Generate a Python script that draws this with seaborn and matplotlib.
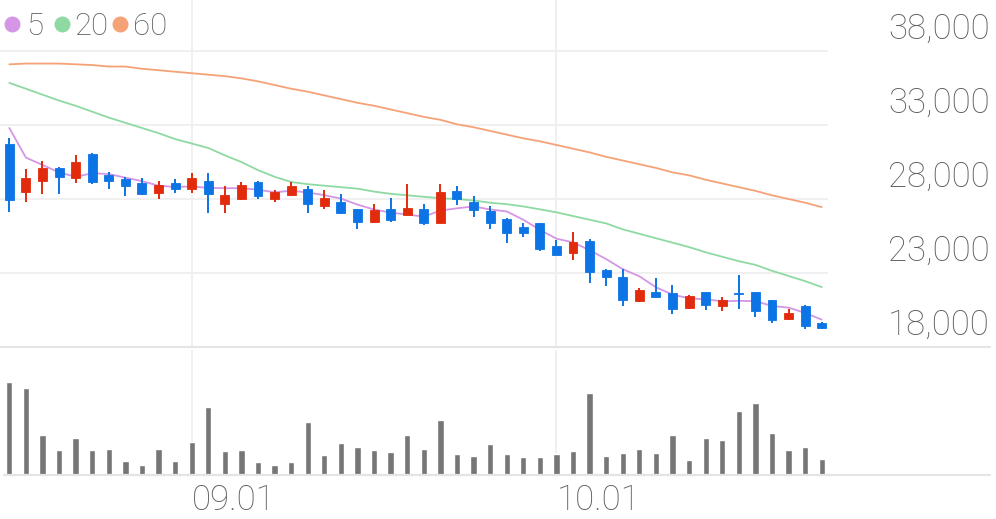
import numpy as np
import pandas as pd
import matplotlib
matplotlib.use("Agg")
import matplotlib.pyplot as plt
import seaborn as sns
from matplotlib.transforms import blended_transform_factory, offset_copy
from matplotlib.lines import Line2D

# ---------------- data ----------------
opens = [31700, 28450, 29200, 30100, 29450, 31050, 29650, 29350, 29050, 28400,
         29050, 28650, 29250, 27650, 28000, 29150, 28000, 28300, 28700, 27550,
         27800, 27300, 26450, 27350, 26950, 27350, 26400, 28550, 27800, 27200,
         26650, 26100, 26350, 24850, 24350, 25150, 23200, 22700, 21100, 21750,
         21650, 20650, 21700, 20800, 21650, 21700, 21150, 19900, 20750, 19600]
highs = [32100, 30000, 30600, 30150, 31000, 31100, 29800, 29500, 29400, 29250,
         29350, 29750, 29750, 28850, 29150, 29250, 28600, 29150, 28900, 28600,
         28350, 27350, 27650, 28050, 29000, 27650, 29000, 28900, 28200, 27500,
         26700, 26350, 26400, 25250, 25800, 25300, 23250, 23250, 22000, 22650,
         22200, 21500, 21750, 21350, 22850, 21750, 21200, 20600, 20850, 19700]
lows = [27150, 27800, 28350, 28350, 29100, 29000, 28700, 28200, 28300, 28000,
        28400, 28400, 27050, 27050, 27950, 28000, 27800, 28200, 27050, 27350,
        27000, 26000, 26400, 26450, 26900, 26250, 26350, 27600, 26800, 26000,
        25000, 25400, 24500, 24200, 23850, 22300, 22100, 20750, 21050, 21350,
        20250, 20600, 20500, 20450, 20550, 20050, 19600, 19850, 19250, 19200]
closes = [27950, 29450, 30100, 29500, 30500, 29150, 29200, 28850, 28350, 28950,
          28700, 29400, 28350, 28250, 28950, 28200, 28500, 28900, 27650, 28050,
          27050, 26450, 27250, 26600, 27400, 26350, 28500, 28000, 27250, 26350,
          25700, 25700, 24600, 24250, 25100, 23050, 22700, 21200, 21850, 21400,
          20550, 21450, 20850, 21200, 21550, 20450, 19800, 20300, 19400, 19300]
volume = [927, 870, 403, 253, 373, 253, 260, 143, 100, 263,
          140, 327, 683, 237, 253, 127, 100, 133, 533, 203,
          323, 283, 247, 230, 403, 263, 553, 213, 193, 313,
          207, 183, 180, 207, 243, 817, 193, 220, 260, 220,
          400, 147, 370, 353, 643, 720, 423, 250, 277, 160]
ma5 = [32800, 30800, 30300, 29800, 29500, 29740, 29690, 29440, 29210, 28900,
       28810, 28850, 28750, 28730, 28730, 28630, 28450, 28560, 28440, 28260,
       28030, 27620, 27290, 27080, 26950, 26810, 27220, 27370, 27500, 27290,
       27160, 26600, 25920, 25320, 25070, 24540, 23940, 23260, 22780, 22040,
       21540, 21290, 21220, 21090, 21120, 21100, 20770, 20660, 20300, 19850]
ma20 = [35850, 35450, 35050, 34650, 34300, 33900, 33500, 33150, 32800, 32450,
        32050, 31750, 31450, 30950, 30500, 29950, 29500, 29150, 29000, 28900,
        28800, 28700, 28500, 28350, 28250, 28150, 28050, 28000, 27900, 27750,
        27650, 27500, 27300, 27100, 26850, 26600, 26350, 25950, 25650, 25350,
        25050, 24750, 24400, 24100, 23800, 23550, 23150, 22800, 22450, 22050]
ma60 = [37100, 37150, 37150, 37150, 37100, 37050, 36950, 36950, 36800, 36700,
        36600, 36500, 36400, 36300, 36150, 35950, 35700, 35450, 35250, 35000,
        34750, 34500, 34300, 34050, 33800, 33550, 33350, 33050, 32850, 32600,
        32350, 32100, 31900, 31650, 31400, 31150, 30850, 30600, 30350, 30100,
        29800, 29600, 29300, 29050, 28800, 28550, 28250, 28000, 27750, 27450]
ma_names = ["5", "20", "60"]
date_labels = ["09.01", "10.01"]
date_positions = [11, 33]
price_ticks = [18000, 23000, 28000, 33000, 38000]

# ---------------- style ----------------
sns.set_theme(style="white")
plt.rcParams["font.family"] = ["Roboto", "DejaVu Sans"]

UP = "#E12B0C"
DOWN = "#0C74E4"
MA_COLORS = ["#D596E6", "#8FD9A3", "#F5A277"]
GRID = "#EFEFEF"
TEXT = "#5E5E5E"

W, H = 996, 519
fig = plt.figure(figsize=(W / 100, H / 100), dpi=100)

def box(x0, y0, x1, y1):
    return [x0 / W, 1 - y1 / H, (x1 - x0) / W, (y1 - y0) / H]

ax = fig.add_axes(box(0, 0, 828, 347))
axv = fig.add_axes(box(0, 350, 828, 475))

n = len(closes)
idx = np.arange(n)
df = pd.DataFrame({"i": idx, "open": opens, "high": highs, "low": lows,
                   "close": closes, "volume": volume,
                   "ma5": ma5, "ma20": ma20, "ma60": ma60})
df["up"] = df["close"] >= df["open"]
df["color"] = np.where(df["up"], UP, DOWN)

step = 16.58
xl = (-9.3 / step, (828 - 9.3) / step)

# price grid
for v in price_ticks[1:]:
    ax.axhline(v, color=GRID, lw=1.3, zorder=0)
for p in date_positions:
    ax.axvline(p, color=GRID, lw=1.3, zorder=0)
    axv.axvline(p, color=GRID, lw=1.3, zorder=0)

# moving averages
for col, c in zip(["ma60", "ma20", "ma5"], MA_COLORS[::-1]):
    sns.lineplot(data=df, x="i", y=col, ax=ax, color=c, lw=1.3, zorder=2)

# candles
ax.vlines(df["i"], df["low"], df["high"], colors=df["color"], lw=1.4, zorder=3)
body_bottom = np.minimum(df["open"], df["close"])
body_h = np.maximum(np.abs(df["close"] - df["open"]), 70)
ax.bar(df["i"], body_h, bottom=body_bottom, width=0.54, color=df["color"],
       edgecolor=df["color"], lw=0.6, zorder=4)

ax.set_xlim(*xl)
ax.set_ylim(18000, 18000 + 347 * 1000 / 14.8)
ax.set_xlabel("")
ax.set_ylabel("")
ax.set_xticks([])
ax.set_yticks([])
for s in ax.spines.values():
    s.set_visible(False)
ax.patch.set_alpha(0)

# volume
sns.barplot(data=df, x="i", y="volume", ax=axv, color="#767676", width=0.38,
            saturation=1, zorder=2)
axv.set_xlim(*xl)
axv.set_ylim(0, 927 * 125 / 92.7)
axv.set_xlabel("")
axv.set_ylabel("")
axv.set_xticks([])
axv.set_yticks([])
for s in axv.spines.values():
    s.set_visible(False)
axv.patch.set_alpha(0)

# separator lines (full width)
fig.add_artist(Line2D([0, 990 / W], [1 - 347 / H] * 2, color="#E4E4E4", lw=1.6))
fig.add_artist(Line2D([4 / W, 990 / W], [1 - 475 / H] * 2, color="#E4E4E4", lw=1.6))

# price labels on the right
tr = blended_transform_factory(fig.transFigure, ax.transData)
tr = offset_copy(tr, fig=fig, x=0, y=12, units="dots")
for v in price_ticks:
    ax.text(888 / W, v, f"{v:,}", transform=tr, ha="left", va="baseline",
            fontsize=25, color=TEXT, fontweight="light", clip_on=False)

# date labels
trx = blended_transform_factory(axv.transData, fig.transFigure)
for p, lab in zip(date_positions, date_labels):
    axv.text(p, 1 - 510 / H, lab, transform=trx, ha="left", va="baseline",
             fontsize=25, color=TEXT, fontweight="light", clip_on=False)

# legend
leg_dots = [12, 62, 120]
leg_text = [26, 74, 133]
for xd, xt, c, name in zip(leg_dots, leg_text, MA_COLORS, ma_names):
    fig.add_artist(Line2D([xd / W], [1 - 24 / H], marker="o", markersize=11.5,
                          color=c, markeredgewidth=0, linestyle="none"))
    fig.text(xt / W, 1 - 35 / H, name, ha="left", va="baseline",
             fontsize=22.5, color=TEXT, fontweight="light")

fig.savefig("out.png", dpi=100)
